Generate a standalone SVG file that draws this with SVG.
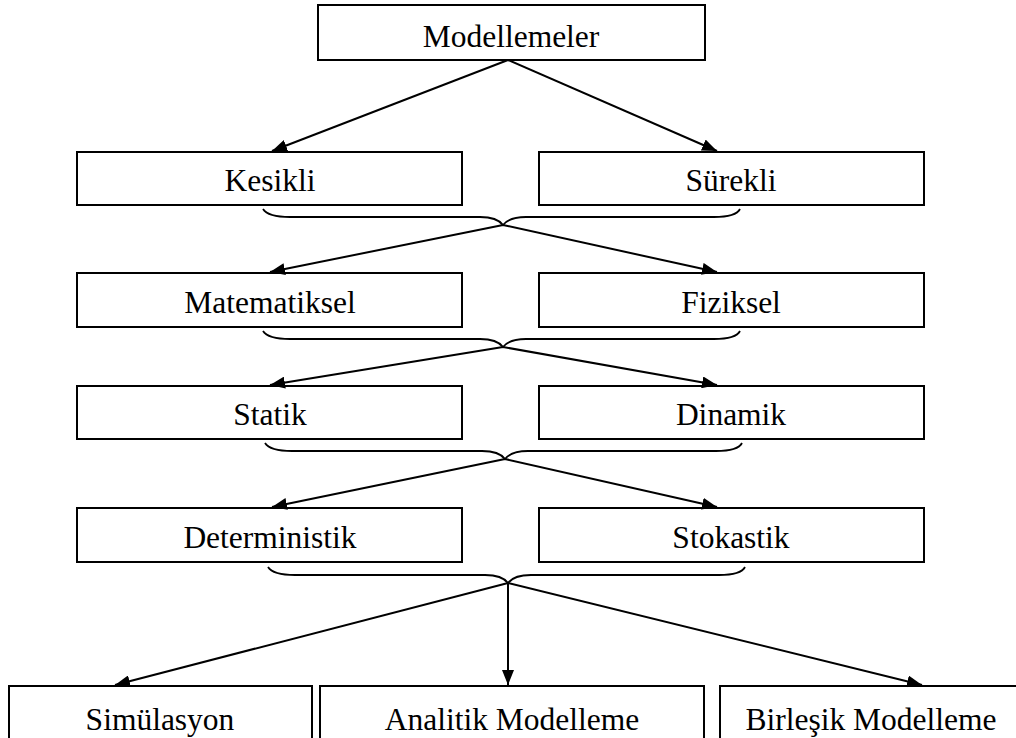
<svg xmlns="http://www.w3.org/2000/svg" width="1016" height="738" viewBox="0 0 1016 738">
<style>
.box{fill:#fff;stroke:#000;stroke-width:2}
.t{font-family:'Liberation Serif','Times New Roman',serif;font-size:31.5px;fill:#000;text-anchor:middle}
.ln{fill:none;stroke:#000;stroke-width:2}
.br{fill:none;stroke:#000;stroke-width:1.8}
</style>
<defs>
<marker id="ah" markerUnits="userSpaceOnUse" markerWidth="16" markerHeight="12" refX="15" refY="6" orient="auto">
<path d="M0,0 L15,6 L0,12 Z" fill="#000"/>
</marker>
</defs>
<rect width="1016" height="738" fill="#fff"/>
<g id="n-modellemeler"><rect class="box" x="318" y="5" width="387" height="55"/><text class="t" x="511" y="47">Modellemeler</text></g>
<g id="n-kesikli"><rect class="box" x="77" y="152" width="385" height="53"/><text class="t" x="270" y="191">Kesikli</text></g>
<g id="n-surekli"><rect class="box" x="539" y="152" width="385" height="53"/><text class="t" x="731" y="191">Sürekli</text></g>
<g id="n-matematiksel"><rect class="box" x="77" y="273" width="385" height="54"/><text class="t" x="270" y="313">Matematiksel</text></g>
<g id="n-fiziksel"><rect class="box" x="539" y="273" width="385" height="54"/><text class="t" x="731" y="313">Fiziksel</text></g>
<g id="n-statik"><rect class="box" x="77" y="386" width="385" height="53"/><text class="t" x="270" y="425">Statik</text></g>
<g id="n-dinamik"><rect class="box" x="539" y="386" width="385" height="53"/><text class="t" x="731" y="425">Dinamik</text></g>
<g id="n-deterministik"><rect class="box" x="77" y="508" width="385" height="54"/><text class="t" x="270" y="548">Deterministik</text></g>
<g id="n-stokastik"><rect class="box" x="539" y="508" width="385" height="54"/><text class="t" x="731" y="548">Stokastik</text></g>
<g id="n-simulasyon"><rect class="box" x="9" y="686" width="303" height="70"/><text class="t" x="160" y="730">Simülasyon</text></g>
<g id="n-analitik"><rect class="box" x="320" y="686" width="384" height="70"/><text class="t" x="512" y="730">Analitik Modelleme</text></g>
<g id="n-birlesik"><rect class="box" x="720" y="686" width="320" height="70"/><text class="t" x="871" y="730">Birleşik Modelleme</text></g>
<g id="connectors">
<line class="ln" x1="508" y1="60" x2="272" y2="151" marker-end="url(#ah)"/>
<line class="ln" x1="508" y1="60" x2="717" y2="151" marker-end="url(#ah)"/>
<path class="br" d="M263,209 Q268,217 290,217 L480,217 Q497,217 503,225 Q509,217 526,217 L714,217 Q736,217 740,209"/>
<line class="ln" x1="503" y1="225" x2="270" y2="272" marker-end="url(#ah)"/>
<line class="ln" x1="503" y1="225" x2="717" y2="272" marker-end="url(#ah)"/>
<path class="br" d="M263,331 Q268,339 290,339 L480,339 Q497,339 503,347 Q509,339 526,339 L714,339 Q736,339 740,331"/>
<line class="ln" x1="503" y1="347" x2="270" y2="385" marker-end="url(#ah)"/>
<line class="ln" x1="503" y1="347" x2="717" y2="385" marker-end="url(#ah)"/>
<path class="br" d="M265,443 Q270,451 292,451 L482,451 Q499,451 505,459 Q511,451 528,451 L716,451 Q738,451 742,443"/>
<line class="ln" x1="505" y1="459" x2="272" y2="507" marker-end="url(#ah)"/>
<line class="ln" x1="505" y1="459" x2="717" y2="507" marker-end="url(#ah)"/>
<path class="br" d="M268,567 Q273,575 295,575 L485,575 Q502,575 508,583 Q514,575 531,575 L719,575 Q741,575 745,567"/>
<line class="ln" x1="508" y1="583" x2="115" y2="685" marker-end="url(#ah)"/>
<line class="ln" x1="508" y1="583" x2="508" y2="685" marker-end="url(#ah)"/>
<line class="ln" x1="508" y1="583" x2="922" y2="685" marker-end="url(#ah)"/>
</g>
</svg>
